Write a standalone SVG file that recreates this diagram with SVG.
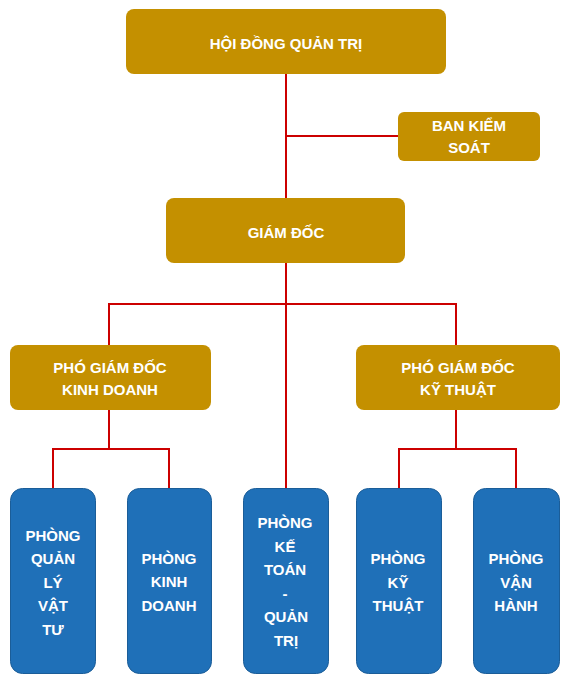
<svg xmlns="http://www.w3.org/2000/svg" width="571" height="684" viewBox="0 0 571 684">
<style>
.g{fill:#c49000;}
.b{fill:#1f70b8;stroke:#1b5d98;stroke-width:1;}
.t{font-family:"Liberation Sans",Arial,sans-serif;font-weight:bold;font-size:15px;fill:#fff;text-anchor:middle;}
.c{fill:none;stroke:#cc0000;stroke-width:2;}
</style>
<rect width="571" height="684" fill="#fff"/>
<g id="connectors">
<path class="c" d="M286 74V198M286 136H398"/>
<path class="c" d="M286 263V488M109 345V304H456V345"/>
<path class="c" d="M109 410V449M53 488V449H169V488"/>
<path class="c" d="M456 410V449M399 488V449H516V488"/>
</g>
<g id="hdqt"><rect class="g" x="126" y="9" width="320" height="65" rx="8"/><text class="t" x="286" y="49">HỘI ĐỒNG QUẢN TRỊ</text></g>
<g id="bks"><rect class="g" x="398" y="112" width="142" height="49" rx="6"/><text class="t" x="469" y="131">BAN KIỂM</text><text class="t" x="469" y="153">SOÁT</text></g>
<g id="gd"><rect class="g" x="166" y="198" width="239" height="65" rx="8"/><text class="t" x="286" y="238">GIÁM ĐỐC</text></g>
<g id="pgdkd"><rect class="g" x="10" y="345" width="201" height="65" rx="8"/><text class="t" x="110" y="373">PHÓ GIÁM ĐỐC</text><text class="t" x="110" y="395">KINH DOANH</text></g>
<g id="pgdkt"><rect class="g" x="356" y="345" width="204" height="65" rx="8"/><text class="t" x="458" y="373">PHÓ GIÁM ĐỐC</text><text class="t" x="458" y="395">KỸ THUẬT</text></g>
<g id="p1"><rect class="b" x="10.5" y="488.5" width="85" height="185" rx="12"/>
<text class="t" x="53" y="541">PHÒNG</text><text class="t" x="53" y="564">QUẢN</text><text class="t" x="53" y="588">LÝ</text><text class="t" x="53" y="611">VẬT</text><text class="t" x="53" y="635">TƯ</text></g>
<g id="p2"><rect class="b" x="127.5" y="488.5" width="84" height="185" rx="12"/>
<text class="t" x="169" y="564">PHÒNG</text><text class="t" x="169" y="587">KINH</text><text class="t" x="169" y="611">DOANH</text></g>
<g id="p3"><rect class="b" x="243.5" y="488.5" width="85" height="185" rx="12"/>
<text class="t" x="285" y="528">PHÒNG</text><text class="t" x="285" y="552">KẾ</text><text class="t" x="285" y="575">TOÁN</text><text class="t" x="285" y="599">-</text><text class="t" x="286" y="622">QUẢN</text><text class="t" x="286" y="646">TRỊ</text></g>
<g id="p4"><rect class="b" x="356.5" y="488.5" width="85" height="185" rx="12"/>
<text class="t" x="398" y="564">PHÒNG</text><text class="t" x="398" y="588">KỸ</text><text class="t" x="398" y="611">THUẬT</text></g>
<g id="p5"><rect class="b" x="473.5" y="488.5" width="86" height="185" rx="12"/>
<text class="t" x="516" y="564">PHÒNG</text><text class="t" x="516" y="588">VẬN</text><text class="t" x="516" y="611">HÀNH</text></g>
</svg>
